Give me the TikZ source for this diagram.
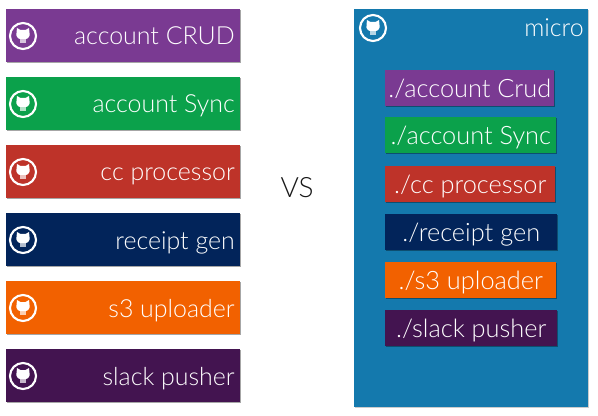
\documentclass[tikz,border=0pt]{standalone}
\usepackage{fontspec}
\setmainfont{Lato Light}
\usetikzlibrary{shadows}
\definecolor{cpurple}{HTML}{7A3A92}
\definecolor{cgreen}{HTML}{0BA14B}
\definecolor{cred}{HTML}{BE3329}
\definecolor{cnavy}{HTML}{02245A}
\definecolor{corange}{HTML}{F26100}
\definecolor{cplum}{HTML}{431450}
\definecolor{cblue}{HTML}{1479AD}
\tikzset{
  x=0.75pt,y=-0.75pt,
  card/.style={fill=#1,draw=none,anchor=north west,minimum width=175.5pt,minimum height=39.75pt,inner sep=0pt,
    drop shadow={shadow xshift=0.8pt,shadow yshift=-0.8pt,opacity=0.35,fill=black}},
  inner card/.style={fill=#1,draw=none,anchor=north west,minimum height=27pt,inner sep=0pt,
    drop shadow={shadow xshift=0.8pt,shadow yshift=-0.8pt,opacity=0.35,fill=black}},
  cardlabel/.style={text=white,anchor=base east,font=\fontsize{18.7}{22}\selectfont,inner sep=0pt},
  smalllabel/.style={text=white,anchor=base,font=\fontsize{19}{22}\selectfont,inner sep=0pt},
  ring/.style={draw=white,line width=1.6pt,circle,minimum size=19.5pt,inner sep=0pt,fill=none},
  pics/gh/.style={code={
    \fill[white] (-6,-8) -- (-6.5,-3) .. controls (-7.5,1) and (-4,3) .. (-3,3) -- (3,3)
       .. controls (4,3) and (7.5,1) .. (6.5,-3) -- (6,-8) -- (2.5,-6) -- (-2.5,-6) -- cycle;
    \fill[white,opacity=0.7] (-3,3) -- (-3,7) -- (3,7) -- (3,3) -- cycle;
  }}
}
\begin{document}
\begin{tikzpicture}
\useasboundingbox (0,0) rectangle (598,416);
\foreach \n/\c/\y/\t in {a/cpurple/9/account CRUD,b/cgreen/77/account Sync,c/cred/145/cc processor,d/cnavy/213/receipt gen,e/corange/281/s3 uploader,f/cplum/349/slack pusher}{
  \node[card=\c] (\n) at (6,\y) {};
  \node[ring] (\n ring) at (23,\y+27) {};
  \path (\n ring) pic {gh};
  \node[cardlabel] (\n label) at (235,\y+36) {\t};
}
\node[font=\fontsize{21}{24}\selectfont,inner sep=0pt,anchor=base,text=black!90] (vs) at (297,198) {VS};
\node[fill=cblue,anchor=north west,minimum width=175.5pt,minimum height=298.5pt,inner sep=0pt,
  drop shadow={shadow xshift=0.5pt,shadow yshift=-0.5pt,opacity=0.2,fill=black}] (micro) at (354,9) {};
\node[ring] (micro ring) at (373,28) {};
\path (micro ring) pic {gh};
\node[cardlabel] (micro label) at (584,37) {micro};
\foreach \n/\c/\y/\w/\t in {p/cpurple/70/169/{./account Crud},q/cgreen/117/171/{./account Sync},r/cred/166/170/{./cc processor},s/cnavy/214/172/{./receipt gen},t/corange/262/171/{./s3 uploader},u/cplum/310/172/{./slack pusher}}{
  \node[inner card=\c,minimum width=\w*0.75pt] (\n) at (385,\y) {};
  \path (\n.center) ++(0,9) node[smalllabel] (\n label) {\t};
}
\end{tikzpicture}
\end{document}
